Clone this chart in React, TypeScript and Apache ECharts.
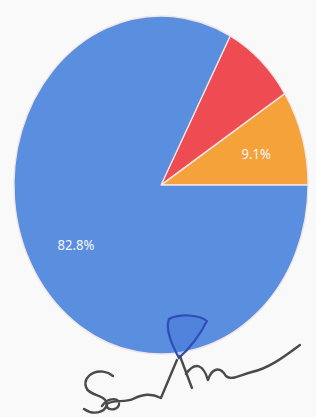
import React, { useEffect, useRef } from "react";
import * as echarts from "echarts";

const categories = ["Blue", "Red", "Orange"];
const values = [82.8, 8.1, 9.1];
const colors = ["#5a8edf", "#ef4b52", "#f5a23a"];
const showLabel = [true, false, true];

// the photographed pie is slightly narrower than it is tall
const SQUEEZE = 0.87;
const W = 316;
const H = 417;

const signatureInk =
  "M 113 376 C 101 366 82 374 86 387 C 89 396 102 394 106 401 C 110 410 96 417 84 409 " +
  "M 102 406 C 109 396 121 398 119 405 C 117 411 105 411 107 404 C 113 399 125 403 133 399 C 143 394 151 393 161 398 L 177 360 " +
  "M 180 356 L 192 388 M 186 374 C 196 360 204 366 208 380 C 212 368 220 366 226 376 C 232 381 240 375 252 372 C 270 368 285 356 300 345";
const signatureLoop =
  "M 179 358 C 172 345 165 330 169 319 C 180 313 200 315 207 321 C 200 335 190 348 179 358 Z";

echarts.graphic.registerShape("sigInk", echarts.graphic.extendPath(signatureInk, {}) as any);
echarts.graphic.registerShape("sigLoop", echarts.graphic.extendPath(signatureLoop, {}) as any);

export default function App() {
  const ref = useRef<HTMLDivElement>(null);
  useEffect(() => {
    if (!ref.current) return;
    const chart = echarts.init(ref.current, null, { renderer: "svg" });
    const cx = 161 / SQUEEZE;
    const cy = 185;
    const items = (forLabels: boolean) =>
      categories
        .map((name, i) => ({
          name,
          value: values[i],
          itemStyle: { color: forLabels ? "rgba(0,0,0,0)" : colors[i] },
          label: { show: forLabels && showLabel[i] },
        }))
        .reverse();
    chart.setOption({
      animation: false,
      backgroundColor: "#f9f9f9",
      series: [
        {
          type: "pie",
          center: [cx, cy],
          radius: [0, 169],
          startAngle: 0,
          clockwise: false,
          data: items(false),
          itemStyle: { borderColor: "#f1e4e6", borderWidth: 1.5 },
          label: { show: false },
          labelLine: { show: false },
          emphasis: { disabled: true },
        },
        {
          type: "pie",
          center: [cx, cy],
          radius: [0, 222],
          startAngle: 0,
          clockwise: false,
          silent: true,
          data: items(true),
          itemStyle: { borderWidth: 0 },
          label: {
            position: "inside",
            formatter: "{d}%",
            color: "#f4f6ff",
            fontSize: 15,
            fontFamily: "Noto Sans",
          },
          labelLine: { show: false },
          emphasis: { disabled: true },
        },
      ],
      graphic: [
        {
          type: "sigLoop",
          x: 0,
          y: 0,
          scaleX: 1 / SQUEEZE,
          scaleY: 1,
          z: 100,
          style: { fill: "rgba(60,100,210,0.25)", stroke: "#2f4fb8", lineWidth: 2.2 },
        },
        {
          type: "sigInk",
          x: 0,
          y: 0,
          scaleX: 1 / SQUEEZE,
          scaleY: 1,
          z: 100,
          style: { fill: "none", stroke: "#4a4a4a", lineWidth: 2.4, lineCap: "round", lineJoin: "round" },
        },
      ],
    });
    return () => chart.dispose();
  }, []);
  return (
    <div style={{ position: "fixed", left: 0, top: 0, width: W, height: H, overflow: "hidden", background: "#f9f9f9" }}>
      <div
        ref={ref}
        style={{
          width: W / SQUEEZE,
          height: H,
          transform: `scaleX(${SQUEEZE})`,
          transformOrigin: "0 0",
        }}
      />
    </div>
  );
}
